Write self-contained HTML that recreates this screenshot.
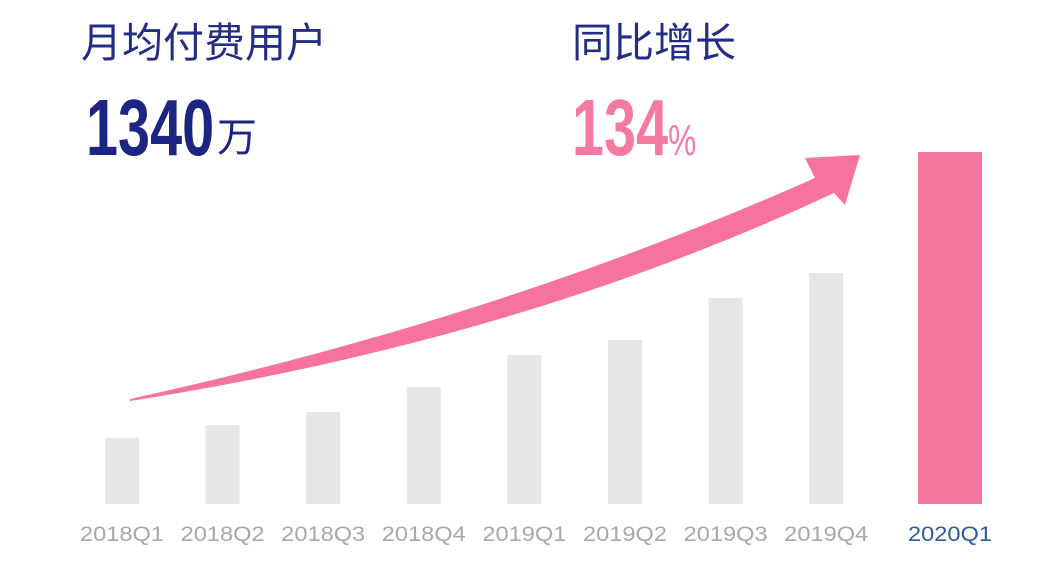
<!DOCTYPE html>
<html><head><meta charset="utf-8"><style>
body{margin:0;width:1064px;height:568px;background:#fff;overflow:hidden;font-family:"Liberation Sans","Noto Sans CJK SC",sans-serif;}
.t{position:absolute;white-space:nowrap;line-height:1;}
</style></head><body>
<div class="t" style="left:81px;top:23px;font-size:41px;color:#232c86;">月均付费用户</div>
<div class="t" style="left:86px;top:88px;font-size:80px;font-weight:bold;color:#1d2583;transform:scaleX(0.72);transform-origin:left;">1340</div>
<div class="t" style="left:217px;top:118px;font-size:40px;color:#1d2583;">万</div>
<div class="t" style="left:572px;top:23px;font-size:41px;color:#232c86;">同比增长</div>
<div class="t" style="left:572px;top:88px;font-size:80px;font-weight:bold;color:#f47aa0;transform:scaleX(0.72);transform-origin:left;">134<span style="font-size:44px;font-weight:normal;">%</span></div>
<svg id="chart" width="1064" height="568" style="position:absolute;left:0;top:0">
<path fill="#f5739c" d="M130,399 Q500,318 815,178 L805,158 L860,155 L845,205 L834,193 Q520,340 130,401 Z"/>
</svg>
<script>
const categories=["2018Q1","2018Q2","2018Q3","2018Q4","2019Q1","2019Q2","2019Q3","2019Q4","2020Q1"];
const values=[66,79,92,117,149,164,206,231,352];
const svg=document.getElementById('chart');
const NS='http://www.w3.org/2000/svg';
const base=504, scale=1;
function y(v){return base-v*scale;}
function xc(i){return i<8?122+i*100.6:950;}
categories.forEach((c,i)=>{
 const w=i<8?34:64;
 const r=document.createElementNS(NS,'rect');
 
 
 r.setAttribute('x',xc(i)-w/2);r.setAttribute('y',y(values[i]));
 r.setAttribute('width',w);r.setAttribute('height',base-y(values[i]));
 r.setAttribute('fill',i<8?'#e6e6e6':'#f4789d');
 svg.appendChild(r);
 const t=document.createElementNS(NS,'text');
 
 
 t.setAttribute('x',xc(i));t.setAttribute('y',541);
 t.setAttribute('text-anchor','middle');
 t.setAttribute('font-size','21');
 t.setAttribute('textLength','84');t.setAttribute('lengthAdjust','spacingAndGlyphs');
 t.setAttribute('fill',i<8?'#a8a8a8':'#2a5aa0');
 t.setAttribute('font-family','Liberation Sans, sans-serif');
 t.textContent=c;
 svg.appendChild(t);
});
</script>
</body></html>
